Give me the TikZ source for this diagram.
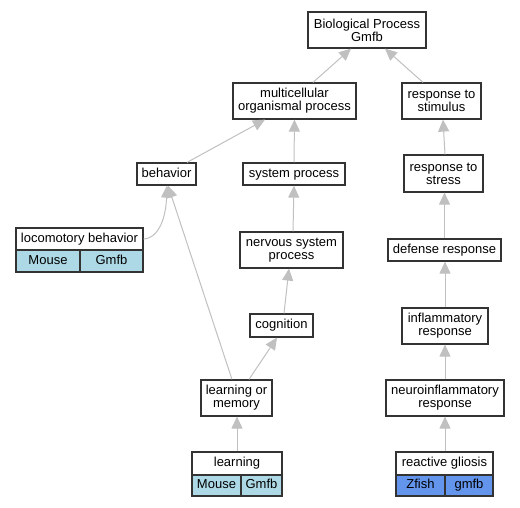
\documentclass[tikz,border=0pt]{standalone}
\usepackage{fontspec}
\setmainfont{Liberation Sans}
\usetikzlibrary{arrows.meta}
\definecolor{edgegray}{HTML}{C0C0C0}
\definecolor{boxline}{HTML}{333333}
\definecolor{mouseblue}{HTML}{ADD8E6}
\definecolor{zfishblue}{HTML}{6495ED}
\begin{document}
\begin{tikzpicture}[x=1pt,y=-1pt,
  box/.style={draw=boxline,line width=1.2pt,fill=white,inner sep=0pt,align=center,
    font=\fontsize{13}{13}\selectfont},
  one/.style={box,text height=9.5pt,text depth=3pt},
  cell/.style={one},
  edge/.style={draw=edgegray,line width=1pt,-{Triangle[length=12pt,width=11pt,fill=edgegray]}}]
\useasboundingbox (0,0) rectangle (520,507);
% nodes
\node[box,minimum width=118,minimum height=36] (bp) at (367,30) {Biological Process\\Gmfb};
\node[box,minimum width=123,minimum height=36] (mc) at (294.5,101) {multicellular\\organismal process};
\node[box,minimum width=79,minimum height=36] (rs) at (441.5,101) {response to\\stimulus};
\node[one,minimum width=59,minimum height=22] (beh) at (166.5,174) {behavior};
\node[one,minimum width=102,minimum height=22] (sp) at (294,174) {system process};
\node[box,minimum width=79,minimum height=37] (rst) at (443.5,173.5) {response to\\stress};
\node[one,minimum width=127,minimum height=22] (loco) at (79.5,239) {locomotory behavior};
\node[cell,fill=mouseblue,minimum width=64,minimum height=22] (locoM) at (48,261) {Mouse};
\node[cell,fill=mouseblue,minimum width=63,minimum height=22] (locoG) at (111.5,261) {Gmfb};
\node[box,minimum width=103,minimum height=36] (nsp) at (291.5,250) {nervous system\\process};
\node[one,minimum width=113,minimum height=22] (def) at (444.5,250) {defense response};
\node[one,minimum width=63,minimum height=23] (cog) at (281.5,325.5) {cognition};
\node[box,minimum width=86,minimum height=36] (inf) at (445,326) {inflammatory\\response};
\node[box,minimum width=71,minimum height=36] (lom) at (236.5,398) {learning or\\memory};
\node[box,minimum width=118,minimum height=36] (ninf) at (445,398) {neuroinflammatory\\response};
\node[one,minimum width=90,minimum height=23] (lrn) at (237,463.5) {learning};
\node[cell,fill=mouseblue,minimum width=49,minimum height=21] (lrnM) at (216.5,485.5) {Mouse};
\node[cell,fill=mouseblue,minimum width=41,minimum height=21] (lrnG) at (261.5,485.5) {Gmfb};
\node[one,minimum width=97,minimum height=23] (rg) at (444.5,463.5) {reactive gliosis};
\node[cell,fill=zfishblue,minimum width=49,minimum height=21] (rgZ) at (420.5,485.5) {Zfish};
\node[cell,fill=zfishblue,minimum width=48,minimum height=21] (rgG) at (469,485.5) {gmfb};
% edges
\draw[edge] ([xshift=18.5]mc.north) -- ([xshift=-16]bp.south);
\draw[edge] ([xshift=-18.5]rs.north) -- ([xshift=18]bp.south);
\draw[edge] ([xshift=20.5]beh.north) -- ([xshift=-29.5]mc.south);
\draw[edge] (sp.north) -- (mc.south);
\draw[edge] ([xshift=1.5]rst.north) -- ([xshift=1.5]rs.south);
\draw[edge] (loco.east) .. controls (160,238) and (166,215) .. ([xshift=0.5]beh.south);
\draw[edge] ([xshift=-4.5]lom.north) -- ([xshift=1.5]beh.south);
\draw[edge] ([xshift=12.5]lom.north) -- ([xshift=-4.5]cog.south);
\draw[edge] ([xshift=2.5]cog.north) -- ([xshift=-2.5]nsp.south);
\draw[edge] ([xshift=1.5]nsp.north) -- (sp.south);
\draw[edge] (def.north) -- ([xshift=1]rst.south);
\draw[edge] (inf.north) -- ([xshift=0.5]def.south);
\draw[edge] (ninf.north) -- (inf.south);
\draw[edge] (lrn.north) -- ([xshift=0.5]lom.north |- lom.south);
\draw[edge] ([xshift=0.5]rg.north) -- (ninf.south);
\end{tikzpicture}
\end{document}
